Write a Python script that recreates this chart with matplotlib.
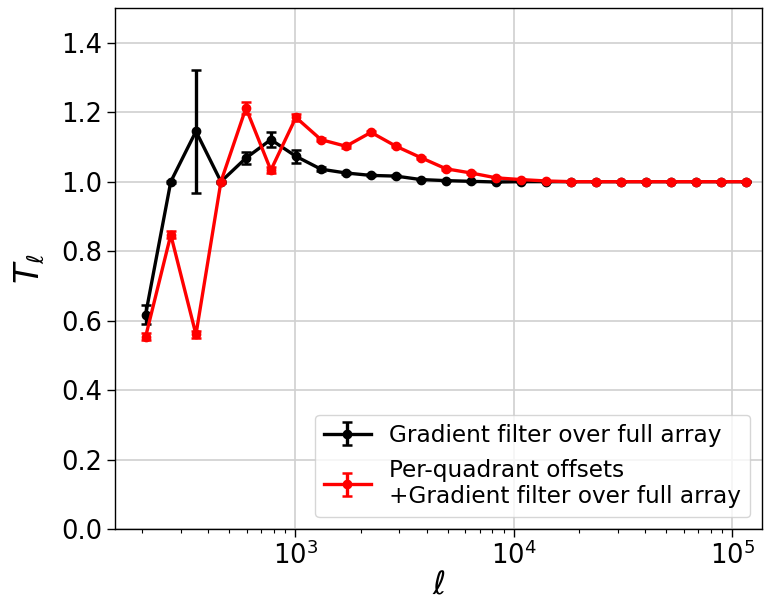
import matplotlib
matplotlib.use("Agg")
import matplotlib.pyplot as plt

ell = [207, 270, 352, 458, 596, 775, 1009, 1314, 1710, 2226, 2897, 3771, 4909,
       6390, 8318, 10828, 14093, 18345, 23878, 31080, 40458, 52660, 68549, 89227, 116145]

t_grad = [0.617, 1.000, 1.145, 1.000, 1.068, 1.121, 1.073, 1.036, 1.025, 1.018, 1.016,
          1.006, 1.003, 1.001, 0.999, 1.000, 1.000, 1.000, 1.000, 1.000, 1.000, 1.000,
          1.000, 1.000, 1.000]
err_grad = [0.028, 0.003, 0.177, 0.003, 0.018, 0.021, 0.019, 0.006, 0.004, 0.003, 0.003,
            0.002, 0.002, 0.001, 0.001, 0.001, 0.001, 0.001, 0.001, 0.001, 0.001, 0.001,
            0.001, 0.001, 0.001]

t_quad = [0.553, 0.847, 0.560, 1.000, 1.212, 1.033, 1.185, 1.121, 1.102, 1.142, 1.102,
          1.069, 1.037, 1.025, 1.011, 1.006, 1.002, 1.000, 1.000, 1.000, 1.000, 1.000,
          1.000, 1.000, 1.000]
err_quad = [0.010, 0.010, 0.010, 0.003, 0.018, 0.008, 0.009, 0.004, 0.004, 0.004, 0.003,
            0.003, 0.002, 0.002, 0.001, 0.001, 0.001, 0.001, 0.001, 0.001, 0.001, 0.001,
            0.001, 0.001, 0.001]

label_grad = "Gradient filter over full array"
label_quad = "Per-quadrant offsets\n+Gradient filter over full array"

fig = plt.figure(figsize=(7.64, 6.07), dpi=100)
ax = fig.add_axes([115/764, 1 - 529/607, (762-115)/764, (529-8)/607])

ax.errorbar(ell, t_grad, yerr=err_grad, color="black", marker="o", ms=6, lw=2.4,
            capsize=3.7, elinewidth=2.4, capthick=1.8, label=label_grad)
ax.errorbar(ell, t_quad, yerr=err_quad, color="red", marker="o", ms=6, lw=2.4,
            capsize=3.7, elinewidth=2.4, capthick=1.8, label=label_quad)

ax.set_xscale("log")
ax.set_xlim(150, 137000)
ax.set_ylim(0, 1.5)
ax.set_yticks([0.0, 0.2, 0.4, 0.6, 0.8, 1.0, 1.2, 1.4])
ax.grid(True, which="major", color="#d0d0d0", lw=1.2)
ax.set_axisbelow(True)
for s in ax.spines.values():
    s.set_linewidth(1.0)
ax.tick_params(axis="both", which="major", labelsize=18.5, length=5.5, width=1.0)
ax.tick_params(axis="both", which="minor", length=3.2, width=0.8)
ax.set_xlabel(r"$\ell$", fontsize=23, labelpad=0)
ax.set_ylabel(r"$T_\ell$", fontsize=24, labelpad=10)
ax.legend(loc="lower right", fontsize=16.7, framealpha=0.8)

fig.savefig("out.png", dpi=100)
